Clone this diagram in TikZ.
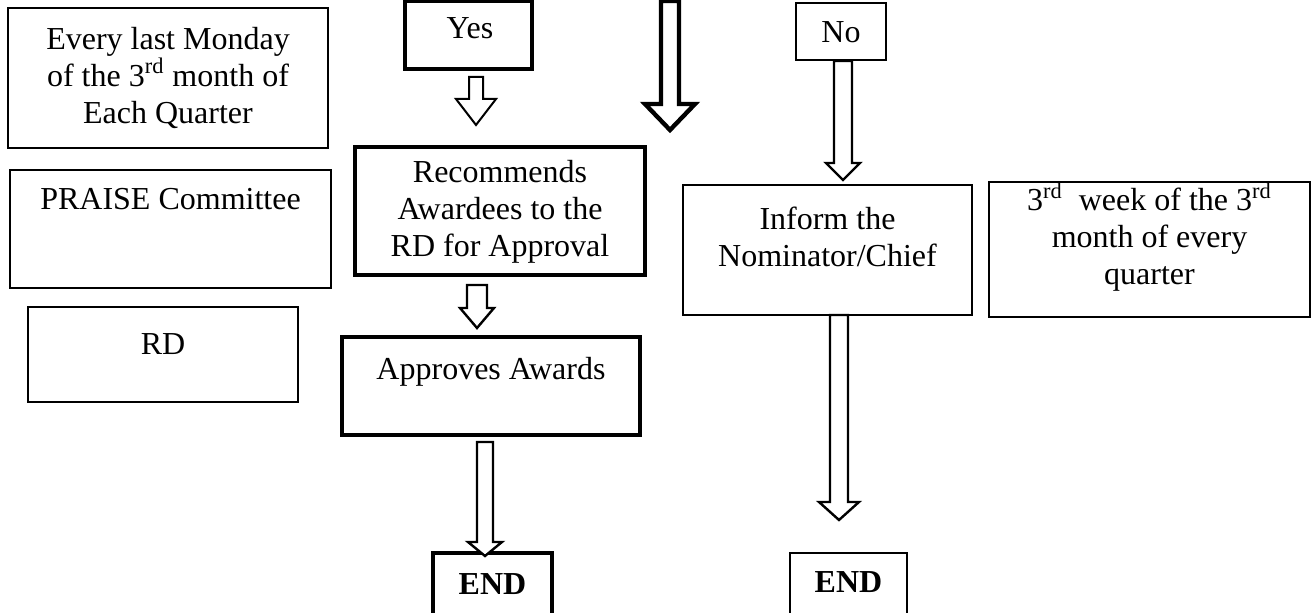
\documentclass[tikz,border=0pt]{standalone}
\usepackage{fontspec}
\setmainfont{Liberation Serif}
\usetikzlibrary{calc}
\tikzset{
  box/.style={draw=black, rectangle, inner sep=0pt},
  thinbox/.style={box, line width=1pt},
  midbox/.style={box, line width=1.3pt},
  thickbox/.style={box, line width=2pt},
  txt/.style={inner sep=0pt, align=center, font=\fontsize{16}{18.5}\selectfont},
  basetxt/.style={txt, anchor=base},
  barrow/.style={draw=black, fill=white, line width=1.2pt, line join=miter},
}
% #1 options, #2 start, #3 tip, #4 half shaft, #5 half head, #6 head length (pt)
\newcommand\blockarr[6]{%
  \draw[barrow,#1] let \p1=(#2), \p2=(#3) in
    (\x1-#4,\y1) -- (\x1+#4,\y1) -- (\x1+#4,\y2+#6) -- (\x1+#5,\y2+#6)
    -- (\x1,\y2) -- (\x1-#5,\y2+#6) -- (\x1-#4,\y2+#6) -- cycle;}
\begin{document}
\begin{tikzpicture}[x=0.5pt,y=-0.5pt]
\clip (0,0) rectangle (1313,613);
\fill[white] (0,0) rectangle (1313,613);

% left column
\node[thinbox, minimum width=160pt, minimum height=70pt] (monday) at (168,78) {};
\node[txt] (mondayT) at (168,78) {Every last Monday\\of the 3\textsuperscript{rd} month of\\Each Quarter};
\node[thinbox, minimum width=160.5pt, minimum height=59pt] (praise) at (170.5,229) {};
\node[basetxt] (praiseT) at (170.5,210) {PRAISE Committee};
\node[thinbox, minimum width=135pt, minimum height=47.5pt] (rd) at (163,354.5) {};
\node[basetxt] (rdT) at (163,355) {RD};

% middle column
\node[thickbox, line width=1.75pt, minimum width=63.5pt, minimum height=34pt] (yes) at (468.5,35) {};
\node[basetxt] (yesT) at (470,39) {Yes};
\node[thickbox, line width=2.2pt, minimum width=145pt, minimum height=64pt] (rec) at (500,211) {};
\node[txt] (recT) at (500,212) {Recommends\\Awardees to the\\RD for Approval};
\node[thickbox, minimum width=149pt, minimum height=49pt] (appr) at (491,386) {};
\node[basetxt] (apprT) at (491,380) {Approves Awards};
\node[thickbox, minimum width=59.5pt, minimum height=42pt] (endL) at (492.5,595) {};
\node[basetxt, font=\fontsize{16}{18.5}\selectfont\bfseries] (endLT) at (492.5,595) {END};

% right column
\node[midbox, minimum width=45pt, minimum height=28.5pt] (no) at (841,31.5) {};
\node[basetxt] (noT) at (841,43) {No};
\node[thinbox, minimum width=144.5pt, minimum height=65pt] (inform) at (827.5,250) {};
\node[txt] (informT) at (827.5,237) {Inform the\\Nominator/Chief};
\node[thinbox, minimum width=58.5pt, minimum height=42pt] (endR) at (848.5,595) {};
\node[basetxt, font=\fontsize{16}{18.5}\selectfont\bfseries] (endRT) at (848.5,593) {END};
\node[midbox, minimum width=160.5pt, minimum height=67.5pt] (week) at (1149.5,249.5) {};
\node[txt] (weekT) at (1149.5,237) {3\textsuperscript{rd}\ \ week of the 3\textsuperscript{rd}\\month of every\\quarter};

% arrow end points
\coordinate (a1s) at (476,77);  \coordinate (a1t) at (476,125);
\coordinate (a2s) at (670,1);   \coordinate (a2t) at (670,130);
\coordinate (a3s) at (477,285); \coordinate (a3t) at (477,328);
\coordinate (a4s) at (485,442); \coordinate (a4t) at (485,556);
\coordinate (a5s) at (843,61);  \coordinate (a5t) at (843,180);
\coordinate (a6s) at (839,315); \coordinate (a6t) at (839,520);

\blockarr{line width=1pt}{a1s}{a1t}{3.5pt}{10pt}{13pt}
\blockarr{line width=2.2pt}{a2s}{a2t}{4.5pt}{12.5pt}{13pt}
\blockarr{}{a3s}{a3t}{5pt}{8.5pt}{10pt}
\blockarr{}{a4s}{a4t}{4pt}{8.5pt}{7pt}
\blockarr{}{a5s}{a5t}{4.5pt}{8.5pt}{8.5pt}
\blockarr{}{a6s}{a6t}{4.5pt}{10pt}{9pt}
\end{tikzpicture}
\end{document}
